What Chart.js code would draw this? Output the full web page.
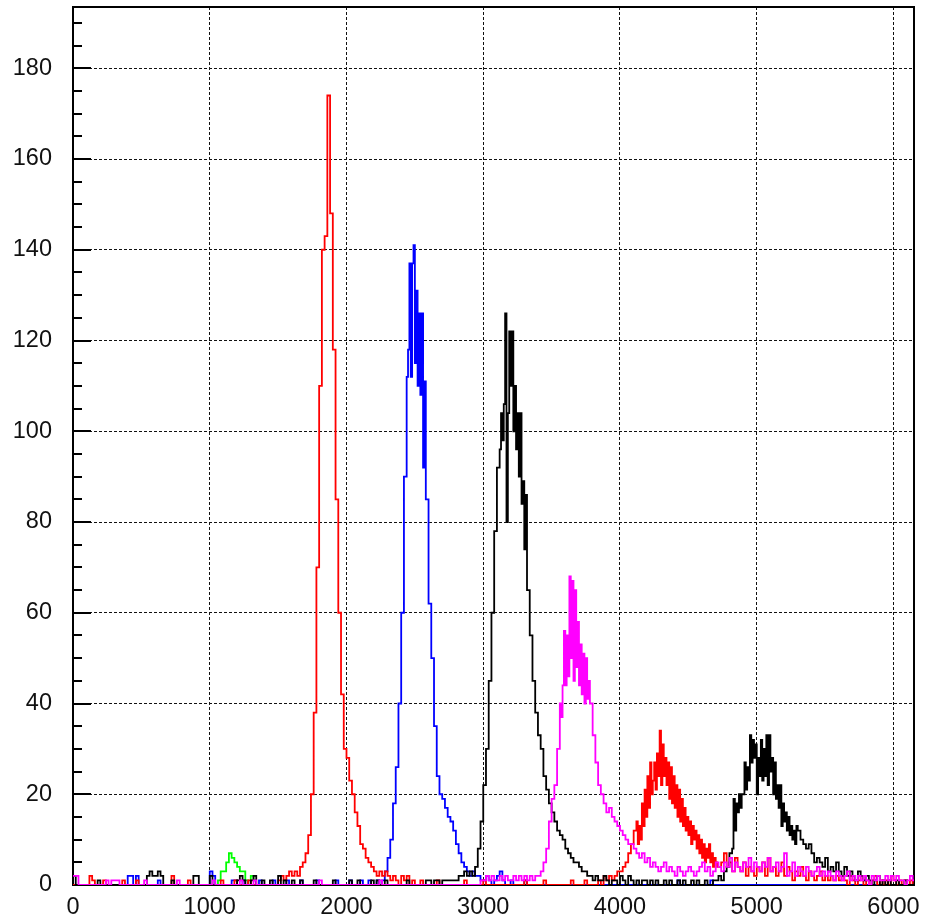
<!DOCTYPE html>
<html>
<head>
<meta charset="utf-8">
<script src="https://cdn.jsdelivr.net/npm/chart.js@4/dist/chart.umd.min.js"></script>
<style>
  html, body { margin: 0; padding: 0; background: #fff; }
  canvas { display: block; }
</style>
</head>
<body>
<canvas id="c" width="926" height="919"></canvas>
<script>
// Histogram binning (x units)
const binStart = 0;
const binWidth = 20;   // coarse bins
const fineWidth = 10;  // fine bins used inside the densest peak regions

// Axis tick labels
const xTicks = [0, 1000, 2000, 3000, 4000, 5000, 6000];
const yTicks = [0, 20, 40, 60, 80, 100, 120, 140, 160, 180];
const xMax = 6150;
const yMax = 193.5;

// Counts per 20-unit bin, starting at 0 (rows of 20 bins = 400 units)
const redCounts = [
  0,0,0,0,0,0,2,1,0,0,0,1,0,0,0,0,0,0,1,0,
  0,0,0,1,0,0,0,0,0,0,0,0,0,0,0,0,2,0,0,0,
  0,0,1,0,0,0,0,0,0,0,0,0,0,0,1,0,0,0,0,1,
  0,0,0,0,1,0,0,0,0,0,0,0,0,0,0,1,2,1,2,3,
  2,3,2,4,5,7,11,20,38,70,110,140,143,174,148,118,85,60,42,30,
  28,23,20,16,13,9,8,6,5,4,3,2,3,2,3,2,1,2,1,0,
  2,1,2,0,1,0,0,1,0,0,0,0,0,1,0,0,0,0,0,0,
  0,0,0,1,0,0,0,0,0,0,1,0,0,0,0,0,0,0,0,0,
  0,0,0,0,0,1,0,0,0,0,0,0,1,0,0,0,0,0,0,0,
  0,0,1,0,0,0,0,1,0,0,0,0,1,0,2,1,2,1,2,3,
  3,4,5,7,9,12,14,17,19,22,25,24,28,30,34,28,26,29,24,22,
  21,18,16,14,12,13,10,9,8,7,8,6,5,7,5,6,4,5,7,4,
  5,3,6,4,3,5,2,4,3,2,4,3,5,2,6,3,4,2,3,5,
  2,4,3,1,3,2,4,2,1,3,2,1,2,3,1,2,1,2,1,2,
  1,2,1,0,2,1,0,1,2,0,1,0,1,2,0,1,0,1,0,2,
  1,0,1,0,1,0,1,0
];

const blueCounts = [
  0,0,0,0,0,0,0,0,0,0,0,0,0,0,0,0,0,0,0,0,
  2,2,0,2,0,0,0,0,0,0,0,1,0,0,0,0,0,0,0,0,
  0,0,0,0,0,0,0,0,0,0,3,2,0,0,0,0,0,0,1,1,
  0,0,1,0,0,0,0,0,1,0,0,0,0,1,0,0,0,0,1,0,
  0,0,0,1,0,0,0,0,0,1,0,0,0,0,0,0,1,0,0,0,
  0,1,0,0,0,1,0,0,1,0,0,1,0,1,3,6,10,18,26,40,
  60,90,115,130,138,140,131,125,108,85,62,50,35,24,20,19,17,15,14,12,
  9,7,5,4,3,2,3,2,2,1,1,2,1,0,1,2,3,1,0,0,
  1,0,0,0,0,1,0,0,0,0,0,0,0,0,0,0,0,0,0,0,
  0,0,0,0,0,0,0,0,0,0,0,0,0,0,0,0,0,0,0,0,
  0,0,0,0,0,0,0,0,0,0,0,0,0,0,0,0,0,0,0,0,
  0,1,0,0,0,0,0,0,0,0,0,0,0,1,0,0,0,0,0,0,
  0,0,0,0,0,0,0,0,0,0,0,0,0,0,0,0,0,0,0,0,
  0,0,0,0,0,0,0,0,0,0,0,0,0,0,0,0,0,0,0,0,
  0,0,0,0,0,0,0,0,0,0,0,0,0,0,0,0,0,0,0,0,
  0,0,0,0,0,0,0,0
];

const blackCounts = [
  2,0,0,0,0,0,0,0,0,1,0,0,0,0,0,0,0,0,0,0,
  0,0,0,0,0,0,0,2,3,2,2,3,2,0,0,0,1,0,0,0,
  0,0,0,0,2,2,0,0,0,0,2,0,0,0,0,0,0,0,0,0,
  1,2,1,0,0,1,2,0,0,1,0,0,1,0,0,2,0,1,0,0,
  1,0,0,1,0,0,0,0,1,0,0,0,0,0,0,1,0,0,0,0,
  0,1,0,0,1,0,0,0,0,1,0,1,0,0,1,0,0,0,0,0,
  0,0,1,0,0,0,0,0,0,1,1,0,1,1,0,1,1,1,1,1,
  1,2,2,3,2,3,2,4,8,14,22,30,45,60,78,92,104,112,126,115,
  122,108,100,94,85,75,65,55,45,38,33,30,24,21,18,16,14,12,11,10,
  8,7,6,5,5,4,3,3,2,2,1,2,1,1,2,1,0,1,1,0,
  2,1,0,2,1,0,1,0,1,1,0,1,0,1,0,0,1,0,1,0,
  0,1,0,1,0,0,1,0,1,0,0,1,0,0,1,1,2,1,3,4,
  7,12,18,16,20,19,24,27,33,28,31,25,32,23,33,27,28,22,20,18,
  21,15,13,14,11,12,10,9,8,9,7,5,6,5,4,6,3,4,3,5,
  3,2,4,2,3,2,1,3,2,1,2,1,0,1,2,0,1,0,1,0,
  0,1,0,0,1,0,0,0
];

const magentaCounts = [
  2,2,0,0,0,0,0,0,0,0,0,0,1,0,1,1,1,0,0,0,
  0,0,0,0,0,0,1,0,0,0,0,0,0,0,0,0,0,0,1,0,
  0,0,0,0,0,0,0,0,0,0,0,1,0,0,0,0,0,0,0,0,
  0,1,0,0,0,0,1,0,0,0,0,0,0,0,0,0,0,0,0,0,
  0,0,0,0,0,0,0,0,0,0,1,0,0,0,0,0,0,0,0,0,
  0,0,0,0,0,0,0,0,0,0,0,0,1,0,0,0,0,0,0,0,
  0,0,0,0,0,0,0,0,0,0,0,0,0,0,0,0,0,0,0,0,
  0,0,0,0,0,0,0,0,0,1,1,2,1,2,1,1,2,1,2,1,
  1,2,1,2,1,2,1,2,1,2,2,3,5,8,14,19,22,30,38,44,
  56,52,68,65,60,50,45,51,44,40,33,27,22,20,18,16,17,15,14,13,
  12,11,10,9,9,8,7,6,7,5,6,4,5,4,3,4,5,3,4,3,
  2,4,3,2,3,4,3,2,3,4,5,3,4,2,3,5,4,3,5,4,
  6,3,5,4,3,5,4,6,3,5,4,3,5,4,6,3,4,5,3,4,
  7,2,3,5,2,4,3,2,4,3,2,3,4,2,3,2,3,2,1,3,
  2,1,2,3,1,2,1,2,1,2,1,0,2,1,2,1,1,2,1,2,
  1,2,1,1,0,1,2,1
];

const greenCounts = [
  0,0,0,0,0,0,0,0,0,0,0,0,0,0,0,0,0,0,0,0,
  0,0,0,0,0,0,0,0,0,0,0,0,0,0,0,0,0,0,0,0,
  0,0,0,0,0,0,0,0,0,0,0,0,0,1,3,3,5,7,6,5,
  4,3,3,1,0,2,1,0,0,0,0,0,0,0,0,0,0,0,0,0
];

// Fine (10-unit) counts inside the peak regions, each with its start value
const blueFineStart = 2440;
const blueFine = [112,118,137,112,137,141,115,131,110,126,108,126,92,111];

const blackFine1Start = 3120;
const blackFine1 = [96,104,98,106,126,80,104,122,110,122,100,110,96,104,90,104,84,89,74,86];

const blackFine2Start = 4820;
const blackFine2 = [8,19,12,18,16,20,17,20,20,27,21,26,23,33,27,32,28,31,20,28,
                    24,32,23,30,24,33,22,33,25,28,20,27,19,22,17,22,13,18,14,16,
                    12,15,11,13,10,12,9,13];

const magentaFineStart = 3560;
const magentaFine = [40,37,44,56,44,55,46,68,50,67,45,65,48,58,44,53,42,51,40,50,41,45];

const redFineStart = 4120;
const redFine = [14,9,13,10,18,13,21,15,24,17,27,20,23,27,21,29,24,34,22,31,
                 24,28,22,27,19,26,18,24,17,22,15,21,14,19,13,17,12,15,11,14,
                 9,13,10,12,8,11,7,10,6,9,5,8,6,9,5,7,4,6,5,4];

function toPoints(coarse, segments) {
  const pts = [];
  coarse.forEach((c, i) => {
    const x0 = binStart + i * binWidth;
    const covered = segments.some(([s, f]) => x0 >= s && x0 < s + f.length * fineWidth);
    if (!covered) pts.push({ x: x0, y: c });
  });
  segments.forEach(([s, f]) => f.forEach((c, i) => pts.push({ x: s + i * fineWidth, y: c })));
  pts.sort((a, b) => a.x - b.x);
  pts.push({ x: binStart + coarse.length * binWidth, y: coarse[coarse.length - 1] });
  return pts;
}

function ds(counts, segments, color) {
  return {
    data: toPoints(counts, segments),
    borderColor: color,
    backgroundColor: color,
    borderWidth: 1.8,
    stepped: 'before',
    pointRadius: 0,
    fill: false,
    tension: 0
  };
}

const FONT = { family: '"Liberation Sans", Arial, Helvetica, sans-serif', size: 23.5 };

const framePlugin = {
  id: 'frame',
  beforeDatasetsDraw(chart) {
    const { ctx, chartArea: a, scales } = chart;
    ctx.save();
    ctx.strokeStyle = '#000';
    ctx.lineWidth = 2;
    ctx.beginPath();
    ctx.moveTo(a.left, a.top);
    ctx.lineTo(a.right, a.top);
    ctx.lineTo(a.right, a.bottom);
    ctx.stroke();
    const y = scales.y;
    for (let v = 0; v <= yMax; v += 5) {
      const py = Math.round(y.getPixelForValue(v));
      const major = yTicks.includes(v);
      ctx.beginPath();
      ctx.moveTo(a.left, py);
      ctx.lineTo(a.left + (major ? 18 : 9), py);
      ctx.stroke();
    }
    ctx.restore();
  }
};

const gridColor = c => (c.tick && c.tick.value === 0) ? 'rgba(0,0,0,0)' : '#111';
const zeroPad = s => { s.paddingTop = 0; s.paddingBottom = 0; s.paddingLeft = 0; s.paddingRight = 0; };

new Chart(document.getElementById('c'), {
  type: 'line',
  data: {
    datasets: [
      ds(magentaCounts, [[magentaFineStart, magentaFine]], '#ff00ff'),
      ds(blackCounts, [[blackFine1Start, blackFine1], [blackFine2Start, blackFine2]], '#000000'),
      ds(redCounts, [[redFineStart, redFine]], '#ff0000'),
      ds(blueCounts, [[blueFineStart, blueFine]], '#0000ff'),
      ds(greenCounts, [], '#00ff00')
    ]
  },
  options: {
    responsive: false,
    animation: false,
    devicePixelRatio: 1,
    layout: { padding: { top: 7, right: 12, left: 0, bottom: 0 } },
    plugins: { legend: { display: false }, tooltip: { enabled: false } },
    scales: {
      x: {
        type: 'linear',
        min: 0,
        max: xMax,
        afterBuildTicks: s => { s.ticks = xTicks.map(v => ({ value: v })); },
        afterFit: s => { s.height = 34; zeroPad(s); },
        grid: { color: gridColor, lineWidth: 1, drawTicks: false },
        border: { display: true, color: '#000', width: 2, dash: [3, 2] },
        ticks: { color: '#111', font: FONT, padding: 8, maxRotation: 0, autoSkip: false,
                 callback: v => String(v) }
      },
      y: {
        type: 'linear',
        min: 0,
        max: yMax,
        afterBuildTicks: s => { s.ticks = yTicks.map(v => ({ value: v })); },
        afterFit: s => { s.width = 73; zeroPad(s); },
        grid: { color: gridColor, lineWidth: 1, drawTicks: false },
        border: { display: true, color: '#000', width: 2, dash: [3, 2] },
        ticks: { color: '#111', font: FONT, padding: 21, autoSkip: false,
                 callback: v => String(v) }
      }
    }
  },
  plugins: [framePlugin]
});
</script>
</body>
</html>
